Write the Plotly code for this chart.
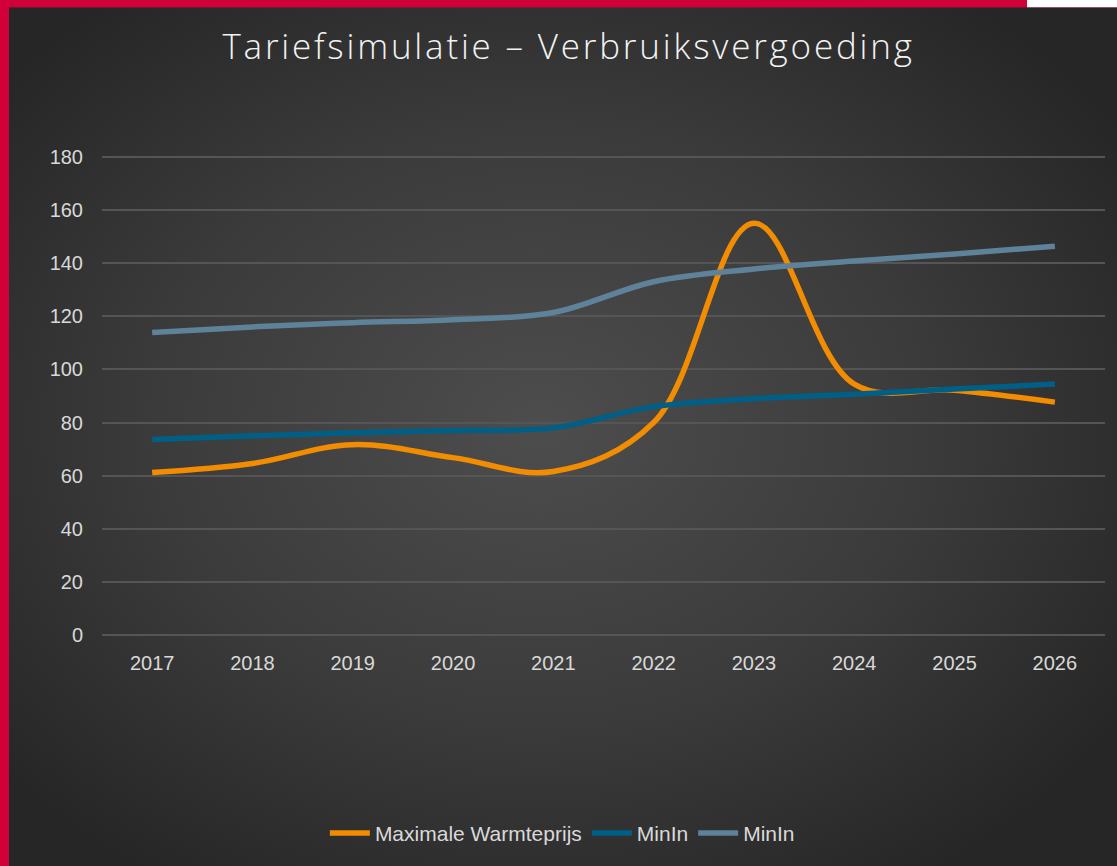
import base64
import plotly.graph_objects as go

years = ["2017", "2018", "2019", "2020", "2021", "2022", "2023", "2024", "2025", "2026"]
max_warmteprijs = [61.2, 64.6, 71.7, 66.8, 61.6, 80.0, 155.0, 94.5, 92.2, 87.7]
minin_dark = [73.6, 75.0, 76.2, 77.0, 78.0, 86.0, 89.0, 90.7, 92.6, 94.5]
minin_light = [113.9, 116.0, 117.6, 118.7, 121.4, 133.0, 137.8, 140.8, 143.4, 146.4]
series_names = ["Maximale Warmteprijs", "MinIn", "MinIn"]
colors = ["#F28C00", "#005F87", "#5F829B"]
smoothings = [1.05, 1.0, 1.0]
title_text = "Tariefsimulatie – Verbruiksvergoeding"

W, H = 1117, 866
L, R, T, B = 102, 12, 155, 225
pw, ph = W - L - R, H - T - B

svg = """<svg xmlns='http://www.w3.org/2000/svg' width='1108' height='860' viewBox='0 0 1108 860' preserveAspectRatio='none'>
<defs><radialGradient id='g' cx='0.47' cy='0.48' r='0.62' fx='0.47' fy='0.48'>
<stop offset='0' stop-color='#4d4d4d'/><stop offset='0.55' stop-color='#3b3b3b'/><stop offset='1' stop-color='#262626'/></radialGradient></defs>
<rect width='1108' height='860' fill='url(#g)'/></svg>"""
src = "data:image/svg+xml;base64," + base64.b64encode(svg.encode()).decode()

fig = go.Figure()
for vals, name, col, sm in zip([max_warmteprijs, minin_dark, minin_light], series_names, colors, smoothings):
    fig.add_trace(go.Scatter(
        x=years, y=vals, name=name, mode="lines",
        line=dict(color=col, width=5.5, shape="spline", smoothing=sm),
    ))

def px_x(p):
    return (p - L) / pw

def px_y(p):
    return (H - B - p) / ph

fig.add_layout_image(dict(
    source=src, xref="paper", yref="paper",
    x=px_x(9), y=px_y(6), sizex=(W + 20 - 9) / pw, sizey=(H + 20 - 6) / ph,
    xanchor="left", yanchor="top", sizing="stretch", layer="below",
))
fig.add_shape(type="rect", xref="paper", yref="paper",
              x0=px_x(1027), x1=px_x(W + 5), y0=px_y(6), y1=px_y(-5),
              fillcolor="white", line_width=0, layer="above")

fig.update_layout(
    width=W, height=H,
    margin=dict(l=L, r=R, t=T, b=B),
    paper_bgcolor="#D20038",
    plot_bgcolor="rgba(0,0,0,0)",
    title=dict(text=f'<span style="letter-spacing:2.8px">{title_text}</span>',
               font=dict(family="Open Sans", size=35, color="#f2f2f2", weight=300),
               x=0.509, xanchor="center", y=1 - 47 / H, yanchor="middle"),
    font=dict(family="Liberation Sans, Arial", size=20, color="#d9d9d9"),
    xaxis=dict(type="category", range=[-0.5, 9.5], showgrid=False, zeroline=False,
               showline=False, ticks="", tickfont=dict(size=20, color="#d9d9d9"),
               ticklabelstandoff=12),
    yaxis=dict(range=[-0.7, 180.7], tickvals=list(range(0, 181, 20)), showgrid=True,
               gridcolor="#555555", gridwidth=1.5, zeroline=False, showline=False, ticks="",
               tickfont=dict(size=20, color="#d9d9d9"), ticklabelstandoff=18),
    legend=dict(orientation="h", x=0.459, xanchor="center", y=px_y(839), yanchor="middle",
                font=dict(size=21, color="#d9d9d9"), bgcolor="rgba(0,0,0,0)",
                itemwidth=40, tracegroupgap=0),
    showlegend=True,
)

fig.write_html("out.html", config={"displayModeBar": False},
               post_script="document.body.style.margin='0';")
